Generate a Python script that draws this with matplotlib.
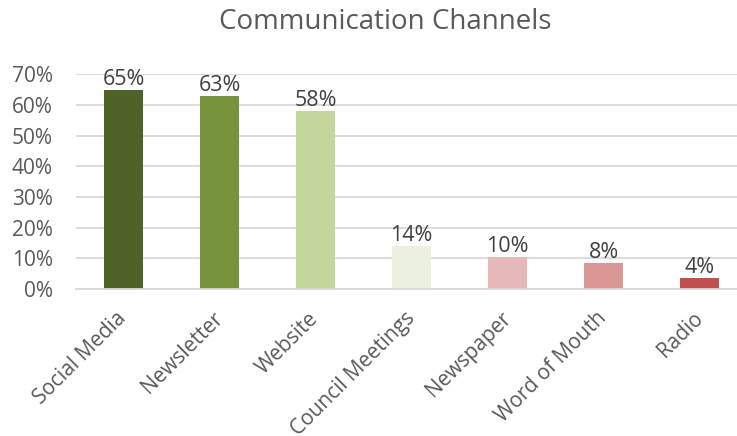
import numpy as np
import matplotlib.pyplot as plt
from matplotlib.ticker import PercentFormatter

categories = ["Social Media", "Newsletter", "Website", "Council Meetings",
              "Newspaper", "Word of Mouth", "Radio"]
shares = [0.65, 0.63, 0.58, 0.14, 0.104, 0.084, 0.035]
bar_colors = ["#4F6228", "#77933C", "#C3D69B", "#EBF1DE",
              "#E6B9B8", "#D99694", "#C0504D"]
y_ticks = [0, 0.1, 0.2, 0.3, 0.4, 0.5, 0.6, 0.7]

plt.rcParams['font.family'] = ['Open Sans', 'DejaVu Sans']

W, H = 737, 436
fig = plt.figure(figsize=(W / 100, H / 100), dpi=100)
# plot area runs past the right edge, as in the reference crop
left, right = 75.5, 747.5
top, bottom = 74.3, 289
ax = fig.add_axes([left / W, 1 - bottom / H, (right - left) / W, (bottom - top) / H])

x = np.arange(len(categories))
ax.bar(x, shares, width=0.406, color=bar_colors, zorder=2)

for xi, v in zip(x, shares):
    ax.text(xi, v, f"{v * 100:.0f}%", ha='center', va='bottom',
            fontsize=15.5, color='#404040')

ax.set_xlim(-0.5, len(categories) - 0.5)
ax.set_ylim(0, 0.7)
ax.set_yticks(y_ticks)
ax.yaxis.set_major_formatter(PercentFormatter(1.0, decimals=0))
ax.grid(axis='y', color='#D9D9D9', linewidth=1.3, zorder=0)
ax.set_axisbelow(True)

for s in ['top', 'right', 'left']:
    ax.spines[s].set_visible(False)
ax.spines['bottom'].set_color('#D9D9D9')
ax.spines['bottom'].set_linewidth(1.3)

ax.tick_params(axis='both', length=0, labelsize=15, labelcolor='#595959')
ax.tick_params(axis='y', pad=16.5)
ax.set_xticks(x)
ax.set_xticklabels(categories, rotation=45, ha='right', va='center',
                   rotation_mode='anchor')
ax.tick_params(axis='x', pad=19)

fig.text(385 / W, 1 - 22 / H, "Communication Channels", ha='center', va='center',
         fontsize=20, color='#595959')

fig.savefig("out.png", dpi=100)
